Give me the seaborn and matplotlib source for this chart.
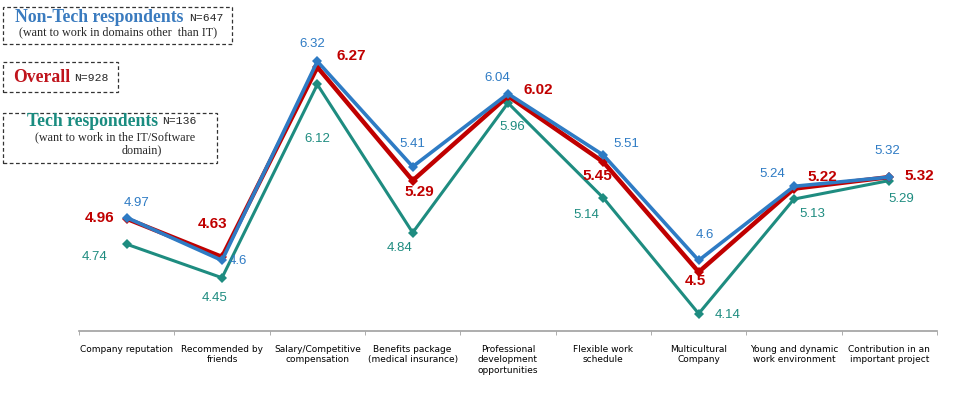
import matplotlib
matplotlib.use("Agg")
from matplotlib import pyplot as plt
from matplotlib.patches import Rectangle
import pandas as pd
import seaborn as sns

categories = ["Company reputation", "Recommended by\nfriends", "Salary/Competitive\ncompensation",
              "Benefits package\n(medical insurance)", "Professional\ndevelopment\nopportunities",
              "Flexible work\nschedule", "Multicultural\nCompany", "Young and dynamic\nwork environment",
              "Contribution in an\nimportant project"]
non_tech = [4.97, 4.60, 6.32, 5.41, 6.04, 5.51, 4.60, 5.24, 5.32]
overall = [4.96, 4.63, 6.27, 5.29, 6.02, 5.45, 4.50, 5.22, 5.32]
tech = [4.74, 4.45, 6.12, 4.84, 5.96, 5.14, 4.14, 5.13, 5.29]
series_names = ["Tech", "Overall", "Non-Tech"]

BLUE = "#2E7BC4"
RED = "#C00000"
TEAL = "#1E8C80"
palette = {"Non-Tech": BLUE, "Overall": RED, "Tech": TEAL}

# label offsets in pixels, (dx, dy)
off_non_tech = [(10, 15), (16, -1), (-5, 17), (0, 23), (-11, 16), (23, 11), (6, 25), (-22, 12), (-2, 26)]
off_overall = [(-27, 1), (-9, 33), (34, 11), (7, -11), (30, 6), (-6, -14), (-3, -9), (28, 12), (30, 1)]
off_tech = [(-32, -13), (-7, -20), (0, -55), (-13, -15), (4, -24), (-17, -17), (29, -1), (18, -15), (12, -18)]

rows = []
for name, vals in zip(["Non-Tech", "Overall", "Tech"], [non_tech, overall, tech]):
    for i, v in enumerate(vals):
        rows.append({"x": i, "value": v, "series": name})
df = pd.DataFrame(rows)

sns.set_style("white")
plt.rcParams['font.family'] = ['Liberation Sans', 'DejaVu Sans']

fig = plt.figure(figsize=(9.75, 3.95), dpi=100)
ax = fig.add_axes([79 / 975, 64 / 395, 858 / 975, 331 / 395])

widths = {"Tech": 2.2, "Overall": 3.2, "Non-Tech": 2.6}
for name in series_names:
    sub = df[df.series == name]
    sns.lineplot(data=sub, x="x", y="value", color=palette[name], linewidth=widths[name],
                 marker="D", markersize=5, markeredgewidth=0, sort=False, ax=ax, legend=False)

for vals, offs, color, size, weight in [(non_tech, off_non_tech, BLUE, 9.5, "normal"),
                                        (overall, off_overall, RED, 11, "bold"),
                                        (tech, off_tech, TEAL, 9.5, "normal")]:
    for i, (v, (dx, dy)) in enumerate(zip(vals, offs)):
        label = f"{v:g}"
        ax.annotate(label, (i, v), xytext=(dx, dy), textcoords="offset pixels",
                    ha="center", va="center", color=color, fontsize=size, fontweight=weight)

ax.set_xlim(-0.5, 8.5)
ax.set_ylim(3.99, 6.85)
ax.set_xticks(range(len(categories)))
ax.set_xticklabels(categories, fontsize=6.5, linespacing=1.2, va="top", family=['DejaVu Sans'],
                   color="black")
ax.set_xticks([i - 0.5 for i in range(len(categories) + 1)], minor=True)
ax.tick_params(axis="x", which="major", length=0, pad=10)
ax.tick_params(axis="x", which="minor", length=3, color="#A0A0A0", direction="out", bottom=True)
ax.set_yticks([])
ax.set_xlabel("")
ax.set_ylabel("")
for side in ["top", "left", "right"]:
    ax.spines[side].set_visible(False)
ax.spines["bottom"].set_color("#A0A0A0")
ax.spines["bottom"].set_linewidth(1.2)


def px(x, y):
    return x / 975, 1 - y / 395


def box(x0, y0, x1, y1):
    fig.patches.append(Rectangle(px(x0, y1), (x1 - x0) / 975, (y1 - y0) / 395,
                                 transform=fig.transFigure, fill=False, edgecolor="#333333",
                                 linestyle=(0, (3, 2)), linewidth=0.9))


serif = ['Liberation Serif', 'DejaVu Serif']
mono = ['Liberation Mono', 'DejaVu Sans Mono']

box(3, 7, 232, 44)
fig.text(*px(15, 18), "Non-Tech respondents", family=serif, fontsize=12.7, fontweight="bold",
         color="#3A7BBF", ha="left", va="center")
fig.text(*px(189, 18), "N=647", family=mono, fontsize=8.2, ha="left", va="center")
fig.text(*px(118, 32), "(want to work in domains other  than IT)", family=serif, fontsize=8.7,
         ha="center", va="center")

box(3, 62, 118, 92)
fig.text(*px(13, 77), "Overall", family=serif, fontsize=12.7, fontweight="bold",
         color="#C0141C", ha="left", va="center")
fig.text(*px(74, 78), "N=928", family=mono, fontsize=8.2, ha="left", va="center")

box(3, 113, 217, 163)
fig.text(*px(27, 121), "Tech respondents", family=serif, fontsize=12.7, fontweight="bold",
         color="#1A8C80", ha="left", va="center")
fig.text(*px(162, 121), "N=136", family=mono, fontsize=8.2, ha="left", va="center")
fig.text(*px(35, 137), "(want to work in the IT/Software", family=serif, fontsize=8.7,
         ha="left", va="center")
fig.text(*px(122, 150), "domain)", family=serif, fontsize=8.7, ha="left", va="center")

fig.savefig("out.png", dpi=100)
